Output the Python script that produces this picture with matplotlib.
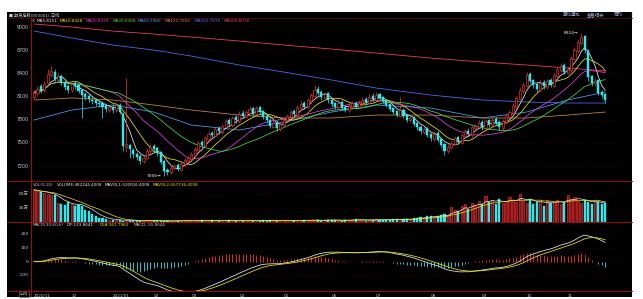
import matplotlib
matplotlib.use("Agg")
import matplotlib.pyplot as plt
from matplotlib.lines import Line2D
from matplotlib.patches import Rectangle
import numpy as np
import pandas as pd

W, H = 643, 299

# candle data
opens = [8100, 8140, 8230, 8180, 8270, 8380, 8420, 8320, 8370, 8290,
         8230, 8180, 8270, 8250, 8180, 8130, 8110, 8060, 8050, 8020,
         8010, 7980, 7930, 7970, 7920, 7990, 7880, 7440, 7470, 7410,
         7360, 7330, 7260, 7310, 7390, 7460, 7430, 7380, 7260, 7150,
         7120, 7170, 7210, 7150, 7220, 7270, 7290, 7340, 7410, 7510,
         7460, 7550, 7630, 7590, 7690, 7640, 7710, 7790, 7730, 7830,
         7780, 7890, 7840, 7890, 7950, 7870, 7960, 7910, 7850, 7800,
         7710, 7770, 7680, 7730, 7790, 7840, 7910, 7860, 7950, 8010,
         7960, 8040, 8110, 8200, 8160, 8080, 8140, 8060, 8010, 7960,
         8030, 7960, 7920, 7970, 8020, 7960, 8010, 8070, 8020, 8110,
         8060, 8130, 8090, 8050, 8000, 7950, 7910, 7850, 7930, 7860,
         7790, 7830, 7760, 7710, 7640, 7690, 7610, 7550, 7630, 7550,
         7480, 7390, 7440, 7490, 7570, 7500, 7590, 7660, 7600, 7690,
         7710, 7770, 7690, 7790, 7730, 7810, 7770, 7690, 7770, 7840,
         7890, 7970, 8070, 8170, 8240, 8390, 8310, 8260, 8190, 8290,
         8220, 8310, 8240, 8370, 8440, 8510, 8410, 8440, 8590, 8690,
         8790, 8880, 8690, 8360, 8270, 8310, 8160, 8130]
closes = [8150, 8200, 8170, 8260, 8390, 8430, 8330, 8360, 8280, 8220,
          8190, 8260, 8240, 8170, 8120, 8100, 8070, 8040, 8010, 8000,
          7970, 7940, 7960, 7930, 7990, 7900, 7460, 7480, 7420, 7350,
          7320, 7270, 7300, 7400, 7450, 7420, 7370, 7250, 7140, 7120,
          7180, 7200, 7160, 7230, 7280, 7300, 7350, 7420, 7500, 7470,
          7560, 7620, 7600, 7680, 7650, 7720, 7780, 7740, 7820, 7790,
          7880, 7850, 7900, 7940, 7880, 7950, 7900, 7840, 7790, 7720,
          7760, 7690, 7740, 7800, 7850, 7900, 7870, 7960, 8000, 7970,
          8050, 8120, 8180, 8150, 8090, 8130, 8050, 8000, 7970, 8020,
          7950, 7930, 7980, 8010, 7970, 8020, 8060, 8030, 8100, 8070,
          8120, 8080, 8040, 7990, 7940, 7900, 7860, 7920, 7850, 7800,
          7820, 7750, 7700, 7650, 7680, 7600, 7560, 7620, 7540, 7470,
          7400, 7450, 7500, 7560, 7510, 7600, 7650, 7610, 7700, 7720,
          7760, 7700, 7780, 7740, 7800, 7760, 7700, 7780, 7850, 7900,
          7980, 8080, 8180, 8250, 8380, 8300, 8250, 8200, 8280, 8230,
          8300, 8250, 8380, 8450, 8500, 8420, 8450, 8600, 8700, 8800,
          8870, 8700, 8350, 8280, 8300, 8150, 8120, 8050]
highs = [8190, 8230, 8260, 8300, 8450, 8500, 8450, 8400, 8390, 8310,
         8260, 8290, 8300, 8270, 8200, 8160, 8130, 8090, 8080, 8050,
         8040, 8010, 7990, 8000, 8030, 8010, 7900, 8340, 7490, 7430,
         7380, 7350, 7330, 7430, 7480, 7490, 7450, 7400, 7280, 7170,
         7210, 7230, 7240, 7260, 7310, 7330, 7380, 7450, 7530, 7540,
         7590, 7650, 7660, 7710, 7720, 7750, 7810, 7820, 7850, 7860,
         7910, 7920, 7930, 7980, 7970, 7980, 7980, 7930, 7870, 7820,
         7790, 7790, 7770, 7830, 7880, 7930, 7940, 7990, 8040, 8040,
         8080, 8150, 8250, 8230, 8180, 8160, 8160, 8080, 8030, 8050,
         8050, 7990, 8010, 8040, 8040, 8050, 8090, 8100, 8130, 8140,
         8160, 8150, 8110, 8070, 8020, 7970, 7930, 8100, 7950, 7880,
         7850, 7850, 7780, 7730, 7710, 7710, 7630, 7650, 7650, 7570,
         7500, 7480, 7530, 7590, 7590, 7630, 7680, 7690, 7730, 7750,
         7790, 7790, 7810, 7810, 7830, 7830, 7790, 7810, 7880, 7930,
         8010, 8110, 8220, 8290, 8420, 8420, 8330, 8280, 8310, 8310,
         8330, 8340, 8410, 8480, 8540, 8530, 8480, 8630, 8740, 8840,
         8924, 8900, 8710, 8380, 8340, 8330, 8190, 8150]
lows = [8070, 8110, 8150, 8160, 8250, 8350, 8300, 8290, 8250, 8180,
        8150, 8160, 8200, 8140, 7820, 8060, 8030, 8000, 7980, 7960,
        7820, 7900, 7900, 7890, 7900, 7870, 7400, 7380, 7300, 7310,
        7280, 7230, 7240, 7290, 7370, 7390, 7330, 7220, 7066, 7090,
        7100, 7150, 7130, 7140, 7200, 7250, 7270, 7320, 7390, 7440,
        7440, 7530, 7570, 7570, 7620, 7620, 7690, 7710, 7710, 7760,
        7760, 7820, 7820, 7870, 7850, 7850, 7870, 7810, 7760, 7690,
        7690, 7660, 7660, 7710, 7770, 7820, 7840, 7840, 7930, 7940,
        7940, 8020, 8090, 8120, 8060, 8060, 8020, 7970, 7940, 7940,
        7920, 7900, 7900, 7950, 7940, 7940, 7990, 8000, 8000, 8040,
        8040, 8050, 8010, 7960, 7910, 7870, 7830, 7830, 7820, 7770,
        7770, 7720, 7670, 7620, 7620, 7570, 7530, 7530, 7510, 7440,
        7340, 7370, 7420, 7470, 7480, 7480, 7570, 7580, 7580, 7670,
        7690, 7670, 7670, 7710, 7710, 7730, 7670, 7670, 7750, 7820,
        7870, 7950, 8050, 8150, 8220, 8270, 8210, 8160, 8170, 8200,
        8200, 8220, 8220, 8350, 8420, 8390, 8390, 8420, 8570, 8670,
        8770, 8660, 8300, 8240, 8240, 8120, 8080, 8010]
# volume, in 万
volumes = [92, 88, 85, 82, 80, 76, 78, 55, 52, 48, 58, 50, 47, 48, 46, 34, 30,
           22, 16, 12, 10, 8, 7, 6, 5, 5, 4, 4,
           3, 4, 3, 3, 4, 5, 3, 3, 4, 3,
           2, 3, 4, 3, 3, 4, 5, 4, 3, 3,
           4, 5, 4, 3, 5, 4, 3, 4, 4, 5,
           3, 4, 4, 3, 5, 6, 4, 3, 4, 5,
           4, 6, 5, 4, 3, 4, 5, 4, 3, 4,
           6, 7, 5, 4, 6, 5, 4, 5, 7, 6,
           5, 4, 4, 6, 5, 7, 8, 6, 5, 4,
           6, 7, 8, 6, 5, 6, 7, 8, 9, 7,
           8, 9, 7,
           10, 12, 14, 13, 16, 18, 15, 17, 20, 22, 19, 42, 35, 30,
           45, 50, 38, 55, 48, 60, 52, 75, 58, 62,
           50, 65, 55, 60, 70, 63, 58, 80, 62, 55,
           66, 52, 58, 60, 47, 62, 55, 58, 64, 50,
           57, 78, 66, 70, 60, 55, 64, 58, 52, 60,
           56, 50, 54]

# long moving averages, read at the start of each month and at the last candle
anchor_idx = [0, 11, 23, 35, 46, 60, 73, 87, 100, 116, 131, 144, 156, 167]
ma60_vals = [7796, 7925, 7990, 7899, 7731, 7666, 7770, 7899, 7990, 7951, 7822, 7899, 8055, 8158]
ma120_vals = [8055, 8081, 8055, 7990, 7925, 7860, 7822, 7822, 7860, 7860, 7822, 7822, 7860, 7899]
ma250_vals = [8948, 8858, 8767, 8702, 8624, 8508, 8417, 8314, 8210, 8119, 8055, 8029, 8016, 8016]
ma500_vals = [9039, 9000, 8948, 8909, 8870, 8819, 8767, 8715, 8663, 8598, 8547, 8508, 8470, 8430]

month_labels = ["2020/11", "12", "2021/01", "02", "03", "04", "05", "06", "07", "08", "09", "10", "11"]
price_ticks = [9000, 8700, 8400, 8100, 7800, 7500, 7200]
vol_ticks = [80, 40]
vol_tick_labels = ["80万", "40万"]
macd_ticks = [200, 100, 0, -100]

RED = "#ff3232"
CYAN = "#2ee8ee"
GRID = "#4a0808"
BORDER = "#9a1010"
LABEL = "#c8c8c8"
FONTS = ["DejaVu Sans", "Noto Sans CJK SC"]


def fx(x):
    return x / W


def fy(y):
    return 1 - y / H


fig = plt.figure(figsize=(W / 100, H / 100), dpi=100)
fig.patch.set_facecolor("white")
fig.add_artist(Rectangle((fx(7), fy(297)), (632 - 7) / W, (297 - 12) / H,
                         transform=fig.transFigure, facecolor="black",
                         edgecolor="none", zorder=-5))

left, right = 31, 622
ax_p = fig.add_axes([fx(left), fy(181), (right - left) / W, (181 - 19) / H])
ax_v = fig.add_axes([fx(left), fy(222), (right - left) / W, (222 - 181) / H])
ax_m = fig.add_axes([fx(left), fy(291), (right - left) / W, (291 - 222) / H])

n = len(closes)
idx = np.arange(n)
x_lim = (-0.9, 171.9)
for ax in (ax_p, ax_v, ax_m):
    ax.set_facecolor("black")
    ax.set_xlim(*x_lim)
    for s in ax.spines.values():
        s.set_visible(False)
    ax.set_xticks([])
    ax.set_yticks([])

# price panel
ax_p.set_ylim(7006, 9104)
for t in price_ticks:
    ax_p.axhline(t, color=GRID, lw=0.5, ls=(0, (1, 2)), zorder=0)
    fig.text(fx(29), ax_p.transData.transform((0, t))[1] / fig.bbox.height, str(t),
             ha="right", va="center", fontsize=3.4, color=LABEL)

ma_cols = {"MA5": "#e8e8e8", "MA10": "#e8e800", "MA20": "#e040e0", "MA30": "#40e040",
           "MA60": "#4aa0ff", "MA120": "#c88a40", "MA250": "#5070ff", "MA500": "#ff4060"}
s_close = pd.Series(closes, dtype=float)
for name, win in (("MA5", 5), ("MA10", 10), ("MA20", 20), ("MA30", 30)):
    ax_p.plot(idx, s_close.rolling(win, min_periods=1).mean(), color=ma_cols[name], lw=0.55, zorder=3)
ax_p.plot(anchor_idx, ma60_vals, color=ma_cols["MA60"], lw=0.55, zorder=2)
ax_p.plot(anchor_idx, ma120_vals, color=ma_cols["MA120"], lw=0.55, zorder=2)
ax_p.plot(anchor_idx, ma250_vals, color=ma_cols["MA250"], lw=0.55, zorder=2)
ax_p.plot(anchor_idx, ma500_vals, color=ma_cols["MA500"], lw=0.55, zorder=2)

up = np.array(closes) >= np.array(opens)
bw = 0.62
for i in idx:
    lo, hi = sorted((opens[i], closes[i]))
    if up[i]:
        ax_p.vlines(i, lows[i], lo, color=RED, lw=0.5, zorder=4)
        ax_p.vlines(i, hi, highs[i], color=RED, lw=0.5, zorder=4)
        ax_p.add_patch(Rectangle((i - bw / 2, lo), bw, max(hi - lo, 6), facecolor="black",
                                 edgecolor=RED, lw=0.45, zorder=5))
    else:
        ax_p.vlines(i, lows[i], highs[i], color=CYAN, lw=0.5, zorder=4)
        ax_p.add_patch(Rectangle((i - bw / 2, lo), bw, max(hi - lo, 6), facecolor=CYAN,
                                 edgecolor=CYAN, lw=0.3, zorder=5))

i_hi = int(np.argmax(highs))
i_lo = int(np.argmin(lows))
ax_p.text(i_hi - 0.8, highs[i_hi], f"{highs[i_hi]}→", ha="right", va="center",
          fontsize=3.2, color="#f0f0f0", zorder=6)
ax_p.text(i_lo - 0.8, lows[i_lo], f"{lows[i_lo]}→", ha="right", va="center",
          fontsize=3.2, color="#f0f0f0", zorder=6)

# volume panel
ax_v.set_ylim(0, 117)
for t, lab in zip(vol_ticks, vol_tick_labels):
    ax_v.axhline(t, color=GRID, lw=0.5, ls=(0, (1, 2)), zorder=0)
    fig.text(fx(29), ax_v.transData.transform((0, t))[1] / fig.bbox.height, lab,
             ha="right", va="center", fontsize=3.2, color=LABEL, family=FONTS)
for i in idx:
    if up[i]:
        ax_v.add_patch(Rectangle((i - bw / 2, 0), bw, volumes[i], facecolor="#7a1414",
                                 edgecolor=RED, lw=0.4, zorder=3))
    else:
        ax_v.add_patch(Rectangle((i - bw / 2, 0), bw, volumes[i], facecolor=CYAN,
                                 edgecolor=CYAN, lw=0.3, zorder=3))
s_vol = pd.Series(volumes, dtype=float)
ax_v.plot(idx, s_vol.rolling(5, min_periods=1).mean(), color="#e8e8e8", lw=0.5, zorder=4)
ax_v.plot(idx, s_vol.rolling(10, min_periods=1).mean(), color="#e8e800", lw=0.5, zorder=4)

# MACD panel
dif = s_close.ewm(span=30, adjust=False).mean() - s_close.ewm(span=60, adjust=False).mean()
dea = dif.ewm(span=6, adjust=False).mean()
macd = 2 * (dif - dea)
ax_m.set_ylim(-215, 289)
for t in macd_ticks:
    ax_m.axhline(t, color=GRID, lw=0.5, ls=(0, (1, 2)), zorder=0)
    fig.text(fx(29), ax_m.transData.transform((0, t))[1] / fig.bbox.height, str(t),
             ha="right", va="center", fontsize=3.2, color=LABEL)
ax_m.vlines(idx, 0, macd, colors=[RED if v >= 0 else CYAN for v in macd], lw=0.6, zorder=2)
ax_m.plot(idx, dif, color="#e8e8e8", lw=0.55, zorder=3)
ax_m.plot(idx, dea, color="#e8e800", lw=0.55, zorder=3)

# date labels
for pos, lab in zip(anchor_idx[:-1], month_labels):
    ax_m.text(pos, -0.04, lab, transform=ax_m.get_xaxis_transform(), ha="left", va="top",
              fontsize=3.0, color=LABEL)

# frame lines
def fline(x0, y0, x1, y1, color=BORDER, lw=0.7):
    fig.add_artist(Line2D([fx(x0), fx(x1)], [fy(y0), fy(y1)], transform=fig.transFigure,
                          color=color, lw=lw, zorder=10))


fline(7, 18, 632, 18, "#5a0c0c", 0.6)
fline(7, 181, 632, 181)
fline(7, 222, 632, 222)
fline(7, 291, 632, 291)
fline(31, 18, 31, 296)

# header texts
fig.text(fx(9), fy(15), "■ 期货指数(000001)-日线", fontsize=3.0, color="#d0d0d0",
         va="center", family=FONTS)
top_right = [(563, "画线通知"), (587, "查看相关"), (614, "同列")]
for x, lab in top_right:
    fig.text(fx(x), fy(14.5), lab, fontsize=3.2, color="#9aa8d8", va="center", family=FONTS)
fig.text(fx(631), fy(14.5), "]", fontsize=3.2, color="#9aa8d8", va="center")

legend = [(32, "X", "#d0d0d0"), (37, "MA5:8151", ma_cols["MA5"]), (60, "MA10:8428", ma_cols["MA10"]),
          (86, "MA20:8379", ma_cols["MA20"]), (113, "MA30:8368", ma_cols["MA30"]),
          (138, "MA60:7980", ma_cols["MA60"]), (165, "MA120:7806", ma_cols["MA120"]),
          (195, "MA250:7878", ma_cols["MA250"]), (224, "MA500:8078", ma_cols["MA500"])]
for x, lab, c in legend:
    fig.text(fx(x), fy(21.5), lab, fontsize=3.0, color=c, va="center")

vol_header = [(33, "VOL(5,10)", "#c8c8c8"), (57, "VOLUME:482244.4008", "#e8e8e8"),
              (105, "MAVOL1:520016.4008", "#e8e8e8"), (153, "MAVOL2:557736.4008", "#e8e800")]
for x, lab, c in vol_header:
    fig.text(fx(x), fy(184.5), lab, fontsize=3.0, color=c, va="center")

macd_header = [(33, "MACD(30,60,6)", "#c8c8c8"), (67, "DIF:133.8641", "#e8e8e8"),
               (100, "DEA:161.7962", "#e8e800"), (134, "MACD:-55.8644", "#c8c8c8")]
for x, lab, c in macd_header:
    fig.text(fx(x), fy(225.5), lab, fontsize=3.0, color=c, va="center")

fig.text(fx(28), fy(294), "日线", fontsize=3.0, color=LABEL, ha="right", va="center",
         family=FONTS, bbox=dict(boxstyle="square,pad=0.15", fc="black", ec="#888888", lw=0.4))

fig.savefig("out.png", dpi=100, facecolor=fig.get_facecolor())
